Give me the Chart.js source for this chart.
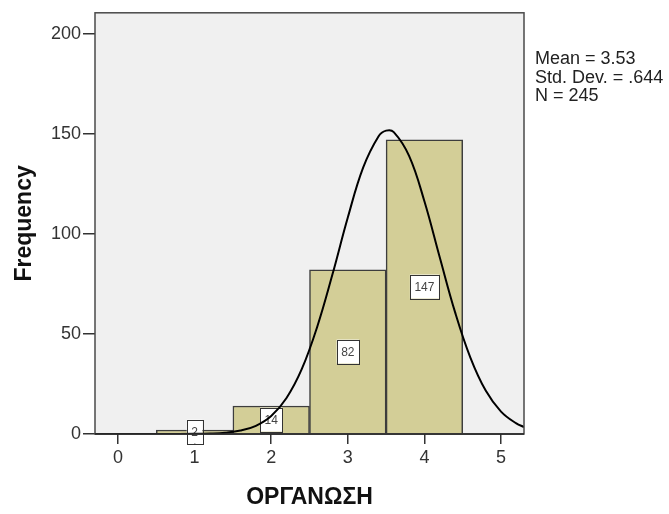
<!DOCTYPE html>
<html>
<head>
<meta charset="utf-8">
<script src="https://cdn.jsdelivr.net/npm/chart.js@4/dist/chart.umd.min.js"></script>
<style>
    html, body { margin: 0; padding: 0; background: #fff; }
    #wrap { width: 669px; height: 514px; }
</style>
</head>
<body>
<div id="wrap"><canvas id="histChart" width="669" height="514"></canvas></div>
<script>
// Histogram bins (bin centre) and counts
const binCenters = [1, 2, 3, 4];
const counts = [2, 14, 82, 147];

// Normal curve
const curveX = [-0.3, 0.2, 0.6, 1.0, 1.2, 1.4, 1.6, 1.8, 2.0, 2.2, 2.4, 2.6, 2.8, 3.0, 3.2, 3.4, 3.5, 3.6, 3.8, 4.0, 4.2, 4.4, 4.6, 4.8, 5.0, 5.2, 5.3];
const curveY = [0, 0, 0, 0.07, 0.22, 0.64, 1.7, 4.1, 9.0, 18.0, 32.5, 53.5, 79.8, 108.2, 133.1, 148.7, 151.6, 150.9, 139.0, 116.3, 88.3, 60.9, 38.2, 21.7, 11.2, 5.3, 3.5];

const xTicks = [0, 1, 2, 3, 4, 5];
const yTicks = [0, 50, 100, 150, 200];
const statLines = ['Mean = 3.53', 'Std. Dev. = .644', 'N = 245'];

const FONT = "'Liberation Sans', Arial, Helvetica, sans-serif";
Chart.defaults.font.family = FONT;
Chart.defaults.color = '#333';

// grey plot background + frame + stats text
const framePlugin = {
    id: 'frame',
    beforeDraw(chart) {
        const a = chart.chartArea, c = chart.ctx;
        c.save();
        c.fillStyle = '#f0f0f0';
        c.fillRect(a.left, a.top, a.right - a.left, a.bottom - a.top);
        c.restore();
    },
    afterDraw(chart) {
        const a = chart.chartArea, c = chart.ctx;
        c.save();
        c.strokeStyle = '#4a4a4a';
        c.lineWidth = 1.5;
        c.strokeRect(a.left, a.top, a.right - a.left, a.bottom - a.top);
        c.strokeStyle = '#222';
        c.beginPath();
        c.moveTo(a.left, a.bottom);
        c.lineTo(a.right, a.bottom);
        c.stroke();
        // stats block
        c.fillStyle = '#222';
        c.font = '18px ' + FONT;
        c.textBaseline = 'alphabetic';
        statLines.forEach(function(t, i) {
            c.fillText(t, a.right + 11, 64 + i * 18.5);
        });
        c.restore();
    }
};

// count labels in white boxes, drawn right after the bars (curve goes on top)
const countLabels = {
    id: 'countLabels',
    afterDatasetDraw(chart, args) {
        if (args.index !== 0) return;
        const c = chart.ctx;
        c.save();
        c.font = '12px ' + FONT;
        c.textAlign = 'center';
        c.textBaseline = 'middle';
        args.meta.data.forEach(function(bar, i) {
            const txt = String(counts[i]);
            const w = c.measureText(txt).width + 9;
            const h = 24;
            const cx = bar.x;
            const cy = (bar.y + bar.base) / 2;
            c.fillStyle = '#fff';
            c.fillRect(cx - w / 2, cy - h / 2, w, h);
            c.strokeStyle = '#333';
            c.lineWidth = 1;
            c.strokeRect(Math.round(cx - w / 2) + 0.5, Math.round(cy - h / 2) + 0.5, Math.round(w), h);
            c.fillStyle = '#444';
            c.fillText(txt, cx, cy + 1);
        });
        c.restore();
    }
};

const ctx = document.getElementById('histChart').getContext('2d');
new Chart(ctx, {
    data: {
        datasets: [{
            type: 'bar',
            label: 'Frequency',
            data: binCenters.map((x, i) => ({ x: x, y: counts[i] })),
            backgroundColor: '#d3ce97',
            borderColor: '#3d3d3d',
            borderWidth: 1.5,
            barPercentage: 1,
            categoryPercentage: 1,
            order: 1
        }, {
            type: 'line',
            label: 'Normal',
            data: curveX.map((x, i) => ({ x: x, y: curveY[i] })),
            borderColor: '#000',
            borderWidth: 2,
            pointRadius: 0,
            tension: 0.4,
            fill: false,
            order: 0
        }]
    },
    options: {
        responsive: false,
        animation: false,
        layout: { padding: { top: 12, right: 145, left: 0, bottom: 0 } },
        plugins: {
            legend: { display: false },
            tooltip: { enabled: false }
        },
        scales: {
            x: {
                type: 'linear',
                min: -0.3,
                max: 5.3,
                offset: false,
                afterBuildTicks: function(scale) {
                    scale.ticks = xTicks.map(v => ({ value: v }));
                },
                afterFit: function(scale) { scale.height = 80; },
                grid: { offset: false, drawOnChartArea: false, tickLength: 10, tickColor: '#333', lineWidth: 1.5 },
                border: { display: false },
                ticks: { font: { size: 18 }, padding: 3, color: '#333', maxRotation: 0 },
                title: {
                    display: true,
                    text: 'ΟΡΓΑΝΩΣΗ',
                    font: { size: 23, weight: 'bold' },
                    color: '#111',
                    padding: { top: 0, bottom: 3 }
                }
            },
            y: {
                min: 0,
                max: 210.5,
                afterBuildTicks: function(scale) {
                    scale.ticks = yTicks.map(v => ({ value: v }));
                },
                afterFit: function(scale) { scale.width = 95; },
                grid: { drawOnChartArea: false, tickLength: 12, tickColor: '#333', lineWidth: 1.5 },
                border: { display: false },
                ticks: { font: { size: 18 }, padding: 2, color: '#333' },
                title: {
                    display: true,
                    text: 'Frequency',
                    font: { size: 23, weight: 'bold' },
                    color: '#111',
                    padding: { top: 11, bottom: 0 }
                }
            }
        }
    },
    plugins: [framePlugin, countLabels]
});
</script>
</body>
</html>
